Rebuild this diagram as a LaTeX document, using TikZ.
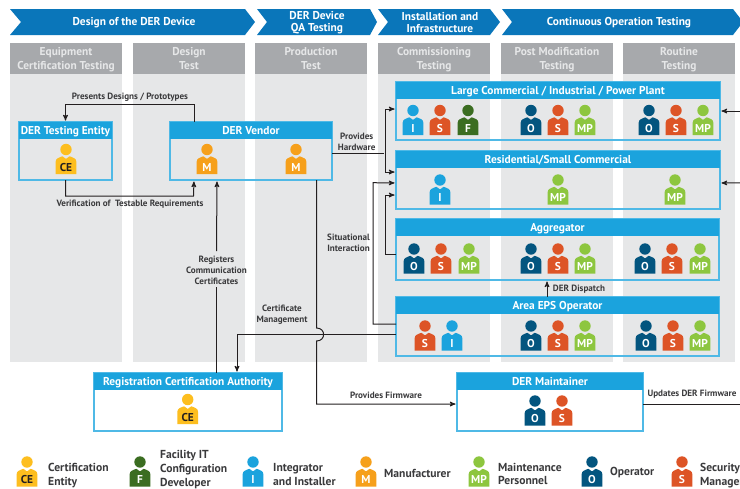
\documentclass[tikz,border=0pt]{standalone}
\usepackage{fontspec}
\setmainfont{PT Sans}
\usepackage{tikz}
\usetikzlibrary{
        arrows,
        calc,
        positioning
    }
\definecolor{bannerblue}{HTML}{0A76BA}
\definecolor{headgrey}{HTML}{A7A9AC}
\definecolor{bodygrey}{HTML}{E6E7E8}
\definecolor{headblue}{HTML}{1BA3DD}
\definecolor{rimblue}{HTML}{4FB9E6}
\definecolor{ink}{HTML}{231F20}
\definecolor{textgrey}{HTML}{3A3A3C}
\definecolor{ceyellow}{HTML}{FDBE1F}
\definecolor{fgreen}{HTML}{3B6D21}
\definecolor{iblue}{HTML}{1BA3DD}
\definecolor{morange}{HTML}{F6A01B}
\definecolor{mpgreen}{HTML}{8DC63F}
\definecolor{onavy}{HTML}{03557F}
\definecolor{sred}{HTML}{DD5426}
\tikzset{>=stealth',shorten >=1.5pt,auto}
\tikzset{
    banner/.style={text=white,font=\fontsize{11.4}{12}\selectfont\bfseries,align=center,inner sep=0pt},
    bannerfill/.style={fill=bannerblue},
    colbody/.style={fill=bodygrey,anchor=north west,minimum width=112pt,minimum height=319pt,outer sep=0pt,inner sep=0pt},
    colhead/.style={fill=headgrey,text=bodygrey,anchor=north west,minimum width=112pt,minimum height=31pt,outer sep=0pt,inner sep=0pt,align=center,text depth=0pt,font=\fontsize{11.4}{13.5}\selectfont\bfseries},
    actorbox/.style={draw=rimblue,line width=1.2pt,anchor=north west,minimum height=58pt,outer sep=0pt,inner sep=0pt},
    actorhead/.style={fill=headblue,text=white,anchor=north,minimum height=17pt,outer sep=0pt,inner sep=0pt,text height=8pt,text depth=0pt,font=\fontsize{11.4}{12}\selectfont\bfseries},
    flow/.style={draw=ink,line width=1pt},
    flowtext/.style={text=textgrey,align=center,inner sep=0pt,font=\fontsize{9.1}{10.8}\selectfont\bfseries},
    keytext/.style={text=textgrey,align=left,anchor=west,inner sep=0pt,font=\fontsize{11.6}{13.6}\selectfont\bfseries},
    persontag/.style={text=white,inner sep=0pt,font=\fontsize{11.4}{11.4}\selectfont\bfseries},
    pics/person/.style 2 args={code={
        \fill[#1] (0,0) circle (5.7);
        \fill[#1] (-10.3,24.5) -- (-10.3,12) .. controls (-10.3,9) and (-7,8) .. (-3.6,6.8) -- (0,9.4) -- (3.6,6.8) .. controls (7,8) and (10.3,9) .. (10.3,12) -- (10.3,24.5) -- cycle;
        \node[persontag] (-tag) at (0,17.8) {#2};
    }}
}

\begin{document}
\begin{tikzpicture}[x=1pt,y=-1pt]
    \useasboundingbox (0,0) rectangle (740,488);
    \clip (0,0) rectangle (740,488);
    \fill[white] (0,0) rectangle (740,488);
    % banners
    \fill[bannerfill] (10,9) -- (245,9) -- (255,22) -- (245,35) -- (10,35) -- (21,22) -- cycle;
    \fill[bannerfill] (257,9) -- (370,9) -- (377,22) -- (370,35) -- (257,35) -- (267,22) -- cycle;
    \fill[bannerfill] (378,9) -- (490,9) -- (500,22) -- (490,35) -- (378,35) -- (388,22) -- cycle;
    \fill[bannerfill] (502,9) -- (733,9) -- (743,22) -- (733,35) -- (502,35) -- (512,22) -- cycle;
    \node[banner] (design) at (134,22.5) {Design of the DER Device};
    \node[banner] (qa) at (317,22.5) {DER Device\\QA Testing};
    \node[banner] (install) at (440,22.5) {Installation and\\Infrastructure};
    \node[banner] (continuous) at (619,22.5) {Continuous Operation Testing};
    % columns
    \node[colbody] (col1) at (10,43) {};
    \node[colbody] (col2) at (133,43) {};
    \node[colbody] (col3) at (255,43) {};
    \node[colbody] (col4) at (378,43) {};
    \node[colbody] (col5) at (501,43) {};
    \node[colbody] (col6) at (623,43) {};
    \node[colhead] (head1) at (10,43) {Equipment\\Certification Testing};
    \node[colhead] (head2) at (133,43) {Design\\Test};
    \node[colhead] (head3) at (255,43) {Production\\Test};
    \node[colhead] (head4) at (378,43) {Commissioning\\Testing};
    \node[colhead] (head5) at (501,43) {Post Modification\\Testing};
    \node[colhead] (head6) at (623,43) {Routine\\Testing};
    % actors
    \node[actorbox,minimum width=93pt] (tester) at (19,122) {};
    \node[actorhead,minimum width=93pt,below=0pt of tester.north] (testerhead) {DER Testing Entity};
    \node[actorbox,minimum width=162pt] (vendor) at (170,122) {};
    \node[actorhead,minimum width=162pt,below=0pt of vendor.north] (vendorhead) {DER Vendor};
    \node[actorbox,minimum width=324pt] (large) at (396,82) {};
    \node[actorhead,minimum width=324pt,below=0pt of large.north] (largehead) {Large Commercial / Industrial / Power Plant};
    \node[actorbox,minimum width=324pt] (small) at (396,151) {};
    \node[actorhead,minimum width=324pt,below=0pt of small.north] (smallhead) {Residential/Small Commercial};
    \node[actorbox,minimum width=323pt,minimum height=61pt] (aggregator) at (396,219) {};
    \node[actorhead,minimum width=323pt,below=0pt of aggregator.north] (aggregatorhead) {Aggregator};
    \node[actorbox,minimum width=323pt,minimum height=59pt] (area) at (396,297) {};
    \node[actorhead,minimum width=323pt,below=0pt of area.north] (areahead) {Area EPS Operator};
    \node[actorbox,minimum width=188pt,fill=white] (authority) at (94,373) {};
    \node[actorhead,minimum width=188pt,below=0pt of authority.north] (authorityhead) {Registration Certification Authority};
    \node[actorbox,minimum width=186pt,fill=white] (maintainer) at (457,373) {};
    \node[actorhead,minimum width=186pt,below=0pt of maintainer.north] (maintainerhead) {DER Maintainer};
    % people
    \pic (te1) at (66,149.5) {person={ceyellow}{\color{ink}CE}};
    \pic (ve1) at (207,149.5) {person={morange}{M}};
    \pic (ve2) at (296,149.5) {person={morange}{M}};
    \pic (la1) at (413,110.5) {person={iblue}{I}};
    \pic (la2) at (440,110.5) {person={sred}{S}};
    \pic (la3) at (468,110.5) {person={fgreen}{F}};
    \pic (la4) at (531,110.5) {person={onavy}{O}};
    \pic (la5) at (558,110.5) {person={sred}{S}};
    \pic (la6) at (585,110.5) {person={mpgreen}{MP}};
    \pic (la7) at (649,110.5) {person={onavy}{O}};
    \pic (la8) at (676,110.5) {person={sred}{S}};
    \pic (la9) at (703,110.5) {person={mpgreen}{MP}};
    \pic (sm1) at (440,180) {person={iblue}{I}};
    \pic (sm2) at (558,180) {person={mpgreen}{MP}};
    \pic (sm3) at (675,180) {person={mpgreen}{MP}};
    \pic (ag1) at (414,249) {person={onavy}{O}};
    \pic (ag2) at (441,249) {person={sred}{S}};
    \pic (ag3) at (469,249) {person={mpgreen}{MP}};
    \pic (ag4) at (531,249) {person={onavy}{O}};
    \pic (ag5) at (558,249) {person={sred}{S}};
    \pic (ag6) at (585,249) {person={mpgreen}{MP}};
    \pic (ag7) at (645,249) {person={onavy}{O}};
    \pic (ag8) at (672,249) {person={sred}{S}};
    \pic (ag9) at (700,249) {person={mpgreen}{MP}};
    \pic (ar1) at (425,326) {person={sred}{S}};
    \pic (ar2) at (452,326) {person={iblue}{I}};
    \pic (ar3) at (531,326) {person={onavy}{O}};
    \pic (ar4) at (558,326) {person={sred}{S}};
    \pic (ar5) at (585,326) {person={mpgreen}{MP}};
    \pic (ar6) at (646,326) {person={onavy}{O}};
    \pic (ar7) at (673,326) {person={sred}{S}};
    \pic (ar8) at (700,326) {person={mpgreen}{MP}};
    \pic (au1) at (187.7,399.5) {person={ceyellow}{\color{ink}CE}};
    \pic (ma1) at (535,401) {person={onavy}{O}};
    \pic (ma2) at (562,401) {person={sred}{S}};
    % connector labels
    \node[flowtext] (presents) at (130,97) {Presents Designs / Prototypes};
    \node[flowtext] (verification) at (130,204) {Verification of\ \ Testable Requirements};
    \node[flowtext] (registers) at (216.5,270.5) {Registers\\Communication\\Certificates};
    \node[flowtext] (hardware) at (356.7,141.5) {Provides\\Hardware};
    \node[flowtext] (situational) at (348.5,242.5) {Situational\\Interaction};
    \node[flowtext] (management) at (282,314.5) {Certificate\\Management};
    \node[flowtext] (firmware) at (386,395) {Provides Firmware};
    \node[flowtext] (dispatch) at (579,289) {DER Dispatch};
    \node[flowtext] (updates) at (692,394) {Updates DER Firmware};
    % connectors
    \coordinate (rightone) at (745,111);
    \coordinate (righttwo) at (745,182.7);
    \coordinate (rightthree) at (745,404);
    \coordinate (hwsplit) at (385,153);
    \draw[flow,->] ([xshift=24pt]vendor.north west) |- (65.5,104.5) -- (tester.north);
    \draw[flow,->] (tester.south) |- (193.5,196) -- ([xshift=24pt]vendor.south west);
    \draw[flow] ([xshift=122.5pt]authority.north west) -- ([yshift=-1pt]registers.south);
    \draw[flow,->] ([yshift=5pt]registers.north) -- ([xshift=47pt]vendor.south west);
    \draw[flow,->] ([yshift=-37.5pt]area.north west) -| ([xshift=143pt]authority.north west);
    \draw[flow,->] ([xshift=146.5pt]vendor.south west) -- (316.5,328) .. controls (326,328) and (326,341) .. (316.5,341) |- ([yshift=-31pt]maintainer.north west);
    \draw[flow] ([yshift=-31pt]vendor.north east) -- (hwsplit);
    \draw[flow,->] (hwsplit) |- ([yshift=-27pt]large.north west);
    \draw[flow,->] (hwsplit) |- ([yshift=-21pt]small.north west);
    \draw[flow,->] ([yshift=-27pt]area.north west) -| (373,182.7) -- ([yshift=-32pt]small.north west);
    \draw[flow,->] ([yshift=-35pt]aggregator.north west) -| (385,195) -- ([yshift=-44pt]small.north west);
    \draw[flow,->] ([xshift=151pt]area.north west) -- ([xshift=151pt]aggregator.south west);
    \draw[flow,->] (rightone) -- ([yshift=-29pt]large.north east);
    \draw[flow,->] (righttwo) -- ([yshift=-32pt]small.north east);
    \draw[flow] ([yshift=-31pt]maintainer.north east) -- (rightthree);
    % legend
    \pic (ke1) at (27,462) {person={ceyellow}{\color{ink}CE}};
    \pic (ke2) at (140,462) {person={fgreen}{F}};
    \pic (ke3) at (253,462) {person={iblue}{I}};
    \pic (ke4) at (366,462) {person={morange}{M}};
    \pic (ke5) at (479,462) {person={mpgreen}{MP}};
    \pic (ke6) at (592,462) {person={onavy}{O}};
    \pic (ke7) at (682,462) {person={sred}{S}};
    \node[keytext] (keyce) at (48,475.5) {Certification\\Entity};
    \node[keytext] (keyf) at (160,469.5) {Facility IT\\Configuration\\Developer};
    \node[keytext] (keyi) at (273,474.5) {Integrator\\and Installer};
    \node[keytext] (keym) at (384,473) {Manufacturer};
    \node[keytext] (keymp) at (498,474) {Maintenance\\Personnel};
    \node[keytext] (keyo) at (610,473) {Operator};
    \node[keytext] (keys) at (700,475.5) {Security\\Manager};
\end{tikzpicture}
\end{document}
